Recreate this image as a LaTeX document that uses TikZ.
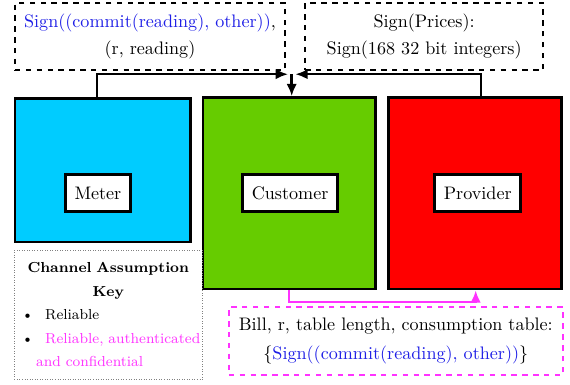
\documentclass[tikz,border=0pt]{standalone}
\usepackage{tikz}
\usepackage{xcolor}
\usetikzlibrary{arrows.meta, shadows}

\definecolor{metercol}{RGB}{0,204,255}
\definecolor{custcol}{RGB}{102,204,0}
\definecolor{provcol}{RGB}{255,0,0}
\definecolor{secure}{RGB}{255,51,255}
\definecolor{sigblue}{RGB}{30,30,230}

\begin{document}
\begin{tikzpicture}[
    party/.style={rectangle, draw=black, line width=1.5pt, drop shadow={shadow xshift=0.6pt, shadow yshift=-0.6pt, opacity=0.3}},
    tag/.style={rectangle, draw=black, line width=1.5pt, fill=white, minimum height=0.72cm, inner xsep=5pt},
    msg/.style={rectangle, draw=black, line width=1.4pt, dashed, align=center, minimum height=1.3cm},
    link/.style={line width=1.4pt, -{Latex[length=2.4mm, width=2mm]}}
]
    \useasboundingbox (0,0) rectangle (11.06,7.47);

    % Parties
    \node[party, fill=metercol, minimum width=3.4cm, minimum height=2.79cm] (meter) at (1.99,4.17) {};
    \node[party, fill=custcol, minimum width=3.34cm, minimum height=3.71cm] (customer) at (5.61,3.72) {};
    \node[party, fill=provcol, minimum width=3.36cm, minimum height=3.71cm] (provider) at (9.22,3.72) {};

    \node[tag] (meterlbl) at (1.90,3.72) {Meter};
    \node[tag] (custlbl) at (5.63,3.72) {Customer};
    \node[tag] (provlbl) at (9.27,3.72) {Provider};

    % Messages
    \node[msg, minimum width=5.24cm] (readmsg) at (2.91,6.76)
        {\textcolor{sigblue}{Sign((commit(reading), other))},\\[3pt] (r, reading)};
    \node[msg, minimum width=4.62cm] (pricemsg) at (8.23,6.76)
        {Sign(Prices):\\[3pt] Sign(168 32 bit integers)};
    \node[msg, draw=secure, minimum width=6.48cm, minimum height=1.32cm] (bill) at (7.68,0.85)
        {Bill, r, table length, consumption table:\\[4pt]
         $\{$\textcolor{sigblue}{Sign((commit(reading), other))}$\}$};

    % Key
    \node[draw=gray, densely dotted, thin, minimum width=3.57cm, minimum height=2.52cm,
          inner xsep=2pt, text width=3.5cm, align=left, font=\footnotesize] (key) at (2.10,1.36)
        {{\centering\bfseries Channel Assumption\\[3.5pt] Key\\[3.5pt]\par}
         \hspace*{2pt}\textbullet\hspace{0.8em}Reliable\\[3.5pt]
         \hspace*{2pt}\mbox{\textbullet\hspace{0.8em}\textcolor{secure}{Reliable, authenticated}}\\[3.5pt]
         \hspace*{1.25em}\textcolor{secure}{and confidential}};

    % Channels
    \coordinate (mbus) at (1.88,6.03);
    \coordinate (pbus) at (9.33,6.03);
    \coordinate (join) at (5.66,6.03);
    \draw[link] (mbus |- meter.north) -- (mbus) -- ([xshift=-2pt]join);
    \draw[link] (pbus |- provider.north) -- (pbus) -- ([xshift=2pt]join);
    \draw[link] (join) -- (join |- customer.north);

    \coordinate (cbus) at (5.61,1.61);
    \coordinate (rbus) at (9.23,1.61);
    \draw[link, secure] (cbus |- customer.south) -- (cbus) -- (rbus) -- (rbus |- provider.south);
\end{tikzpicture}
\end{document}
